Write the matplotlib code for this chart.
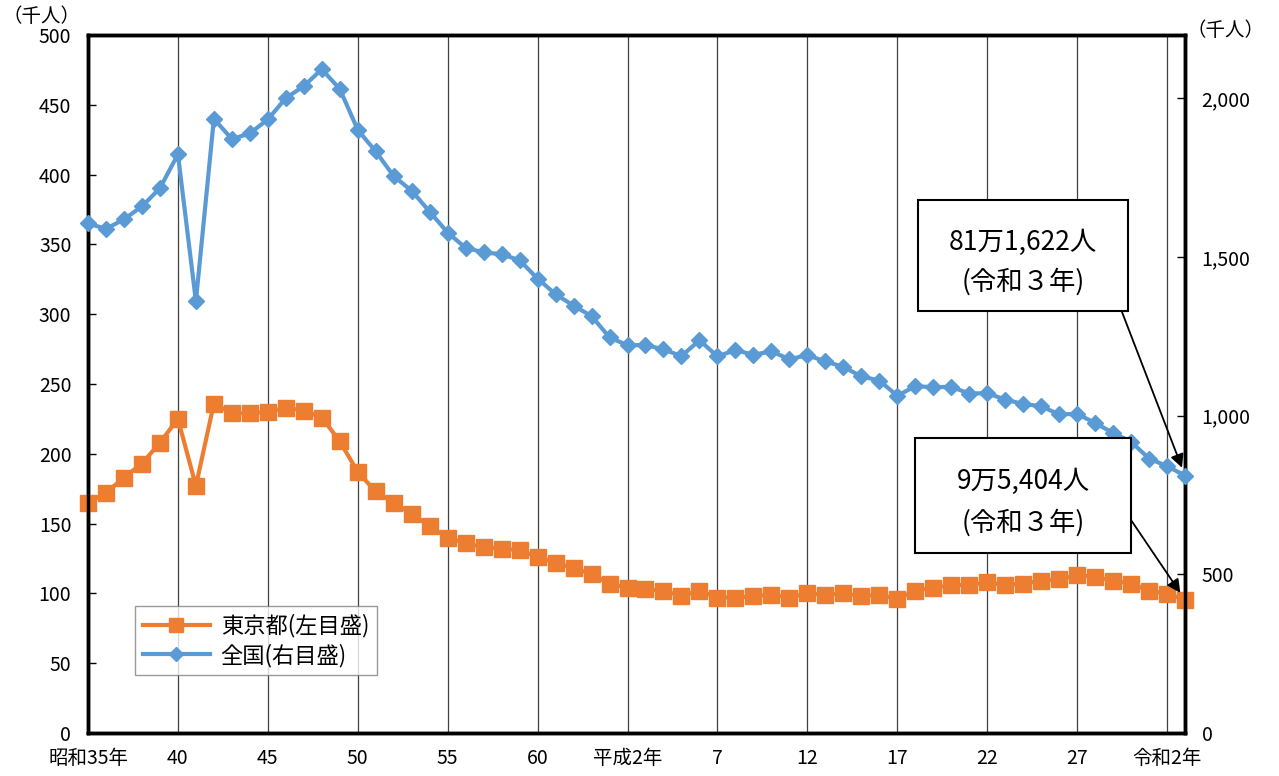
import numpy as np
import matplotlib
matplotlib.use('Agg')
import matplotlib.pyplot as plt
from matplotlib.patches import Rectangle
from matplotlib.lines import Line2D

plt.rcParams['font.family'] = ['Noto Sans CJK JP', 'DejaVu Sans']

# 年 (西暦) 昭和35年〜令和3年
years = list(range(1960, 2022))

# 東京都 出生数 (千人, 左目盛)
tokyo = [165, 172, 183, 193, 208, 225, 177, 236, 229, 229,
         230, 233, 231, 226, 209, 187, 173, 165, 157, 148,
         140, 136, 133, 132, 131, 126, 122, 118, 114, 107,
         104, 103, 102, 98, 102, 97, 97, 98, 99, 97,
         100, 99, 100, 98, 99, 96, 102, 104, 106, 106,
         108, 106, 107, 109, 110, 113, 112, 109, 107, 102,
         99.7, 95.4]

# 全国 出生数 (千人, 右目盛)
japan = [1606, 1589, 1619, 1660, 1717, 1824, 1361, 1936, 1872, 1890,
         1934, 2001, 2039, 2092, 2030, 1901, 1833, 1755, 1709, 1643,
         1577, 1529, 1515, 1509, 1490, 1432, 1383, 1347, 1314, 1247,
         1222, 1223, 1209, 1188, 1238, 1187, 1207, 1192, 1203, 1178,
         1191, 1171, 1154, 1124, 1111, 1063, 1093, 1090, 1091, 1070,
         1071, 1051, 1037, 1030, 1004, 1006, 977, 946, 918, 865,
         841, 811.6]

tick_years = [1960, 1965, 1970, 1975, 1980, 1985, 1990, 1995, 2000, 2005, 2010, 2015, 2020]
tick_labels = ['昭和35年', '40', '45', '50', '55', '60', '平成2年', '7', '12', '17', '22', '27', '令和2年']

orange = '#ED7D31'
blue = '#5B9BD5'

W, H = 1279, 776
fig = plt.figure(figsize=(W / 100, H / 100), dpi=100)
ax = fig.add_axes([88 / W, 1 - 733 / H, (1185 - 88) / W, (733 - 35) / H])
ax2 = ax.twinx()

ax.plot(years, tokyo, color=orange, lw=3, marker='s', ms=11.5, zorder=3, clip_on=False)
ax2.plot(years, japan, color=blue, lw=3, marker='D', ms=8, zorder=3, clip_on=False)

ax.set_xlim(1960, 2021)
ax.set_ylim(0, 500)
ax2.set_ylim(0, 2200)
ax.set_yticks(range(0, 501, 50))
ax2.set_yticks(range(0, 2001, 500))
ax2.set_yticklabels(['0', '500', '1,000', '1,500', '2,000'])
ax.set_xticks(tick_years)
ax.set_xticklabels(tick_labels)

for y in tick_years[1:]:
    ax.axvline(y, color='#404040', lw=0.9, zorder=1)

for a in (ax, ax2):
    for s in a.spines.values():
        s.set_linewidth(2.5)
        s.set_color('black')
ax.tick_params(axis='y', direction='in', length=6, width=1, labelsize=14, pad=12)
ax2.tick_params(axis='y', direction='in', length=6, width=1, labelsize=14, pad=12)
ax.tick_params(axis='x', length=0, labelsize=14, pad=11)

fig.text(2 / W, 1 - 17 / H, '（千人）', fontsize=14, va='center', ha='left')
fig.text(1186 / W, 1 - 31 / H, '（千人）', fontsize=14, va='center', ha='left')

handles = [Line2D([], [], color=orange, lw=3, marker='s', ms=10),
           Line2D([], [], color=blue, lw=3, marker='D', ms=7)]
leg = ax.legend(handles, ['東京都(左目盛)', '全国(右目盛)'], loc='lower left',
                bbox_to_anchor=((124 - 88) / (1185 - 88), (733 - 686) / (733 - 35)),
                fontsize=16, frameon=True, fancybox=False, edgecolor='#808080',
                handlelength=3.0, borderpad=0.35, labelspacing=0.25, handletextpad=0.5)
leg.get_frame().set_linewidth(1)

# 注記
boxes = [((918, 200, 1128, 311), ['81万1,622人', '(令和３年)'], (1122, 312), ax2, 811.6),
         ((915, 438, 1131, 553), ['9万5,404人', '(令和３年)'], (1131, 520), ax, 95.4)]
for (x0, y0, x1, y1), lines, start, a, val in boxes:
    fig.patches.append(Rectangle((x0 / W, 1 - y1 / H), (x1 - x0) / W, (y1 - y0) / H,
                                 transform=fig.transFigure, facecolor='white',
                                 edgecolor='black', lw=1.5, zorder=5))
    cx = (x0 + x1) / 2
    h = y1 - y0
    fig.text(cx / W, 1 - (y0 + h * 0.38) / H, lines[0], fontsize=19, ha='center', va='center', zorder=6)
    fig.text(cx / W, 1 - (y0 + h * 0.74) / H, lines[1], fontsize=19, ha='center', va='center', zorder=6)
    a.annotate('', xy=(2021, val), xycoords='data',
               xytext=(start[0] / W, 1 - start[1] / H), textcoords='figure fraction',
               arrowprops=dict(arrowstyle='-|>', color='black', lw=1.3, mutation_scale=20,
                               shrinkA=0, shrinkB=6), zorder=6)

fig.savefig('out.png', dpi=100)
